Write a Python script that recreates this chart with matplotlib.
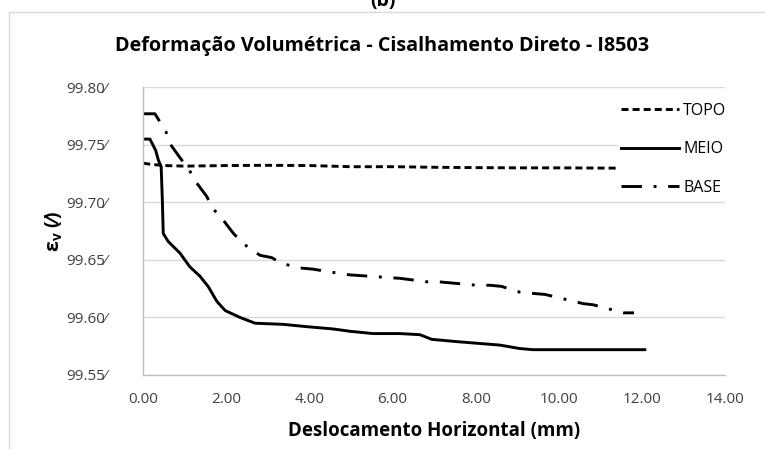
import matplotlib
matplotlib.use('Agg')
import matplotlib.pyplot as plt
from matplotlib.patches import Rectangle

plt.rcParams['font.family'] = ['Open Sans', 'DejaVu Sans']

# dados
topo_x = [0.0, 0.2, 0.5, 1.0, 2.0, 3.0, 4.0, 5.0, 6.0, 7.0, 8.0, 9.0, 10.0, 11.0, 12.07]
topo_y = [99.734, 99.733, 99.732, 99.7315, 99.732, 99.7322, 99.732, 99.731, 99.731,
          99.7305, 99.7302, 99.730, 99.730, 99.7298, 99.7297]

meio_x = [0.0, 0.16, 0.30, 0.36, 0.43, 0.46, 0.48, 0.60, 0.88, 1.12, 1.36, 1.56, 1.77,
          1.97, 2.33, 2.69, 3.37, 3.93, 4.57, 4.97, 5.53, 6.18, 6.66, 6.94, 7.54, 8.58,
          9.06, 9.38, 10.5, 12.07]
meio_y = [99.755, 99.755, 99.745, 99.737, 99.731, 99.70, 99.673, 99.666, 99.656, 99.644,
          99.636, 99.627, 99.614, 99.606, 99.600, 99.595, 99.594, 99.592, 99.590, 99.588,
          99.586, 99.586, 99.585, 99.581, 99.579, 99.576, 99.573, 99.572, 99.572, 99.572]

base_x = [0.0, 0.28, 0.40, 0.55, 0.64, 0.92, 1.11, 1.24, 1.53, 1.66, 1.85, 2.17, 2.41,
          2.81, 3.09, 3.33, 3.77, 4.08, 4.41, 4.97, 5.37, 5.77, 6.18, 6.82, 7.10, 8.02,
          8.34, 8.62, 9.06, 9.35, 9.67, 10.59, 10.83, 11.15, 11.55, 11.81]
base_y = [99.777, 99.777, 99.770, 99.761, 99.751, 99.737, 99.728, 99.719, 99.705, 99.695,
          99.688, 99.673, 99.664, 99.654, 99.652, 99.647, 99.643, 99.642, 99.640, 99.637,
          99.636, 99.635, 99.634, 99.631, 99.631, 99.628, 99.628, 99.627, 99.622, 99.621,
          99.620, 99.612, 99.611, 99.608, 99.604, 99.604]

x_ticks = [0, 2, 4, 6, 8, 10, 12, 14]
y_ticks = [99.55, 99.60, 99.65, 99.70, 99.75, 99.80]

fig = plt.figure(figsize=(7.65, 4.49), dpi=100)
fig.patches.append(Rectangle((9 / 765, -0.1), 1.2, 1 - 12 / 449 + 0.1, transform=fig.transFigure,
                             fill=False, edgecolor='#d9d9d9', linewidth=1.0))
fig.text(0.5, 0.998, '(b)', ha='center', va='center', fontsize=14, fontweight='bold')
fig.text(0.5, 1 - 46 / 449, 'Deformação Volumétrica - Cisalhamento Direto - I8503',
         ha='center', va='center', fontsize=14.2, fontweight='bold')

ax = fig.add_axes([143.3 / 765, 1 - 375 / 449, (725 - 143.3) / 765, (375 - 87.3) / 449])

lw = 2.1
ax.plot(topo_x, topo_y, color='black', lw=lw, dashes=(2.4, 1.4), label='TOPO')
ax.plot(meio_x, meio_y, color='black', lw=lw, label='MEIO')
ax.plot(base_x, base_y, color='black', lw=lw, dashes=(7, 4, 1, 4), label='BASE')

ax.set_xlim(0, 14)
ax.set_ylim(99.55, 99.80)
ax.set_xticks(x_ticks)
ax.set_yticks(y_ticks)
ax.set_xticklabels(['%.2f' % v for v in x_ticks], fontsize=11, color='#404040')
ax.set_yticklabels(['%.2f\u2044' % v for v in y_ticks], fontsize=11, color='#404040')
ax.tick_params(axis='y', length=0, pad=26)
ax.tick_params(axis='x', length=0, pad=12)
ax.grid(axis='y', color='#d9d9d9', lw=1)
ax.set_axisbelow(True)
for s in ['top', 'right']:
    ax.spines[s].set_visible(False)
for s in ['left', 'bottom']:
    ax.spines[s].set_color('#bfbfbf')
    ax.spines[s].set_linewidth(1)

ax.set_xlabel('Deslocamento Horizontal (mm)', fontsize=13.5, fontweight='bold', labelpad=10)
ax.set_ylabel(r'ε$_\mathregular{v}$ (⁄)', fontsize=14, fontweight='bold', labelpad=1)

leg = ax.legend(loc='upper left', bbox_to_anchor=(0.802, 0.985), frameon=True, fontsize=11.5,
                handlelength=3.6, labelspacing=1.4, handletextpad=0.3, borderpad=0.2,
                fancybox=False)
leg.get_frame().set_facecolor('white')
leg.get_frame().set_edgecolor('none')
leg.get_frame().set_alpha(1)

fig.savefig('out.png', dpi=100)
